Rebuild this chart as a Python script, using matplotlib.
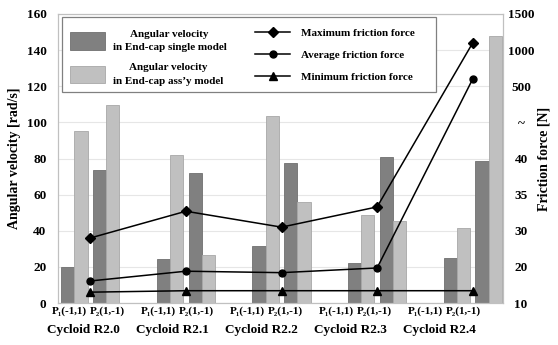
import numpy as np
import matplotlib
matplotlib.use("Agg")
import matplotlib.pyplot as plt
from matplotlib.patches import Rectangle

plt.rcParams['font.family'] = ['Liberation Serif', 'DejaVu Serif']
plt.rcParams['font.weight'] = 'bold'

# data
groups = ['Cycloid R2.0', 'Cycloid R2.1', 'Cycloid R2.2', 'Cycloid R2.3', 'Cycloid R2.4']
p_labels = ['P\u2081(-1,1)', 'P\u2082(1,-1)']
single_p1 = [20, 24.4, 31.6, 22.2, 25]
assy_p1 = [95.2, 81.8, 103.7, 48.5, 41.3]
single_p2 = [73.9, 72, 77.6, 80.9, 78.5]
assy_p2 = [109.6, 26.7, 55.7, 45.3, 147.6]

# friction force [N]
max_force = [28, 32.7, 30.5, 33.3, 1100]
avg_force = [16.1, 18.8, 18.4, 19.7, 600]
min_force = [13.0, 13.4, 13.4, 13.4, 13.4]

# broken right axis: force value -> left axis units
force_ticks = [10, 20, 30, 35, 40, 270, 500, 1000, 1500]
force_tick_labels = ['10', '20', '30', '35', '40', '~', '500', '1000', '1500']
scale_n = [10, 20, 30, 35, 40, 500, 1000, 1500]
scale_pos = [0, 20, 40, 60, 80, 120, 140, 160]


def fwd(v):
    return np.interp(v, scale_n, scale_pos)


def inv(v):
    return np.interp(v, scale_pos, scale_n)


dark = '#808080'
light = '#c0c0c0'

fig = plt.figure(figsize=(5.58, 3.45), dpi=100)
ax1 = fig.add_axes([58.3 / 558, 1 - 303 / 345, 444.7 / 558, 289 / 345])
ax2 = ax1.twinx()

x = np.arange(len(groups))
w = 0.138
ax1.bar(x - 0.235, single_p1, w, color=dark, edgecolor='#707070', lw=0.6, label='Angular velocity\nin End-cap single model')
ax1.bar(x - 0.097, assy_p1, w, color=light, edgecolor='#a8a8a8', lw=0.6, label='Angular velocity\nin End-cap ass\u2019y model')
ax1.bar(x + 0.097, single_p2, w, color=dark, edgecolor='#707070', lw=0.6)
ax1.bar(x + 0.235, assy_p2, w, color=light, edgecolor='#a8a8a8', lw=0.6)

ax1.set_xlim(-0.335, 4.317)
ax1.set_ylim(0, 160)
ax1.set_yticks(np.arange(0, 161, 20))
ax1.set_xticks([])
ax1.yaxis.grid(True, color='#e6e6e6', lw=0.8)
ax1.set_axisbelow(True)
ax1.tick_params(axis='y', length=0, pad=8.5, labelsize=9.5)
ax1.set_ylabel('Angular velocity [rad/s]', fontsize=10, fontweight='bold', labelpad=4)

# friction force lines on the broken scale
ax2.set_yscale('function', functions=(fwd, inv))
ax2.set_ylim(10, 1500)
ax2.plot(x, max_force, color='black', lw=1.1, marker='D', ms=5, label='Maximum friction force')
ax2.plot(x, avg_force, color='black', lw=1.1, marker='o', ms=5, label='Average friction force')
ax2.plot(x, min_force, color='black', lw=1.1, marker='^', ms=5.5, label='Minimum friction force')
ax2.set_yticks(force_ticks)
ax2.set_yticklabels(force_tick_labels)
ax2.yaxis.set_minor_locator(matplotlib.ticker.NullLocator())
ax2.tick_params(axis='y', length=0, pad=13, labelsize=9.5)
for t in ax2.get_yticklabels():
    t.set_horizontalalignment('center')
ax2.set_ylabel('Friction force [N]', fontsize=10, fontweight='bold', rotation=90, labelpad=2)

for a in (ax1, ax2):
    for s in a.spines.values():
        s.set_color('#c0c0c0')
        s.set_linewidth(0.8)

# category labels below the axis
for i, g in enumerate(groups):
    p1 = 0.024 + 0.2003 * i
    ax1.text(p1, -0.028, p_labels[0], transform=ax1.transAxes, ha='center', va='center', fontsize=8)
    ax1.text(p1 + 0.0865, -0.028, p_labels[1], transform=ax1.transAxes, ha='center', va='center', fontsize=8)
    ax1.text(p1 + 0.032, -0.093, g, transform=ax1.transAxes, ha='center', va='center', fontsize=9.5)

# legend box holding both legends
ax2.add_patch(Rectangle((0.009, 0.731), 0.8397, 0.2597, transform=ax2.transAxes,
                        facecolor='white', edgecolor='#808080', lw=0.9, zorder=5))
h1, l1 = ax1.get_legend_handles_labels()
leg1 = ax2.legend(h1, l1, loc='upper left', bbox_to_anchor=(70 / 558, 1 - 30 / 345),
                  bbox_transform=fig.transFigure, frameon=False, fontsize=8, borderpad=0,
                  handlelength=3.15, handleheight=2.0, handletextpad=0.7, labelspacing=1.0,
                  borderaxespad=0)
for t in leg1.get_texts():
    t.set_multialignment('center')
    t.set_linespacing(1.6)
leg1.set_zorder(6)
ax2.add_artist(leg1)
h2, l2 = ax2.get_legend_handles_labels()
leg2 = ax2.legend(h2, l2, loc='upper left', bbox_to_anchor=(255 / 558, 1 - 28 / 345),
                  bbox_transform=fig.transFigure, frameon=False, fontsize=8, borderpad=0,
                  handlelength=3.15, handletextpad=1.0, labelspacing=1.1, borderaxespad=0)
leg2.set_zorder(6)

fig.savefig('out.png', dpi=100)
